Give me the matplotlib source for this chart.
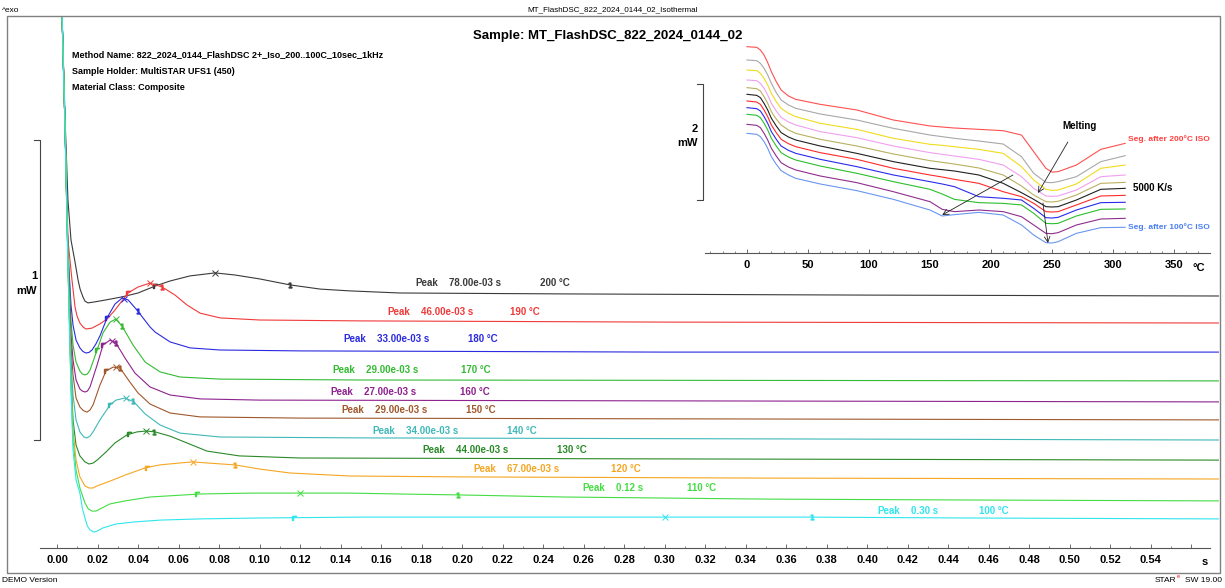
import numpy as np
import matplotlib
matplotlib.use("Agg")
import matplotlib.pyplot as plt
from matplotlib.patches import Rectangle
from matplotlib.transforms import blended_transform_factory

plt.rcParams['font.family'] = ['Liberation Sans', 'DejaVu Sans']

# ---- isothermal segments: heat flow (mW) vs time (s) ----
t_200 = [0.0015, 0.0025, 0.0040, 0.0054, 0.0069, 0.0089, 0.0104, 0.0114, 0.0128, 0.0138, 0.0153, 0.0183, 0.0242,
         0.0321, 0.0400, 0.0484, 0.0558, 0.0657, 0.0780, 0.0879, 0.1000, 0.1151, 0.1300, 0.1447, 0.1694, 0.2500,
         0.4000, 0.5735]
hf_200 = [2.027, 1.773, 1.427, 1.160, 1.027, 0.953, 0.893, 0.863, 0.837, 0.823, 0.817, 0.820, 0.827,
          0.837, 0.850, 0.873, 0.890, 0.907, 0.917, 0.910, 0.897, 0.877, 0.863, 0.857, 0.850, 0.847,
          0.843, 0.840]
t_190 = [0.0015, 0.0025, 0.0040, 0.0054, 0.0074, 0.0089, 0.0099, 0.0113, 0.0128, 0.0143, 0.0173, 0.0212, 0.0247,
         0.0286, 0.0351, 0.0400, 0.0459, 0.0519, 0.0583, 0.0642, 0.0706, 0.0805, 0.1000, 0.1500, 0.3000, 0.5735]
hf_190 = [2.027, 1.773, 1.393, 1.027, 0.893, 0.803, 0.773, 0.750, 0.737, 0.730, 0.733, 0.747, 0.763,
          0.793, 0.850, 0.870, 0.883, 0.870, 0.843, 0.810, 0.783, 0.767, 0.760, 0.757, 0.753, 0.750]
t_180 = [0.0015, 0.0025, 0.0040, 0.0054, 0.0069, 0.0079, 0.0094, 0.0113, 0.0128, 0.0143, 0.0158, 0.0173, 0.0192,
         0.0212, 0.0247, 0.0286, 0.0321, 0.0351, 0.0395, 0.0459, 0.0484, 0.0558, 0.0657, 0.0805, 0.1200, 0.3000,
         0.5735]
hf_180 = [2.027, 1.773, 1.393, 0.993, 0.810, 0.743, 0.693, 0.667, 0.655, 0.650, 0.652, 0.660, 0.680,
          0.707, 0.767, 0.813, 0.833, 0.827, 0.793, 0.737, 0.720, 0.687, 0.667, 0.660, 0.657, 0.653,
          0.653]
t_170 = [0.0015, 0.0025, 0.0040, 0.0054, 0.0069, 0.0079, 0.0094, 0.0113, 0.0125, 0.0138, 0.0150, 0.0163, 0.0198,
         0.0227, 0.0262, 0.0290, 0.0321, 0.0375, 0.0435, 0.0509, 0.0607, 0.0805, 0.1500, 0.5735]
hf_170 = [2.027, 1.773, 1.393, 0.993, 0.760, 0.677, 0.620, 0.590, 0.580, 0.577, 0.580, 0.593, 0.660,
          0.717, 0.753, 0.763, 0.740, 0.677, 0.620, 0.587, 0.570, 0.563, 0.560, 0.557]
t_160 = [0.0015, 0.0025, 0.0040, 0.0054, 0.0069, 0.0079, 0.0094, 0.0113, 0.0125, 0.0138, 0.0150, 0.0163, 0.0198,
         0.0227, 0.0262, 0.0291, 0.0336, 0.0385, 0.0459, 0.0558, 0.0706, 0.1000, 0.5735]
hf_160 = [2.027, 1.773, 1.393, 0.977, 0.710, 0.627, 0.560, 0.530, 0.523, 0.520, 0.523, 0.537, 0.610,
          0.677, 0.693, 0.683, 0.633, 0.583, 0.537, 0.510, 0.497, 0.493, 0.487]
t_150 = [0.0015, 0.0025, 0.0040, 0.0054, 0.0069, 0.0079, 0.0094, 0.0113, 0.0130, 0.0148, 0.0163, 0.0178, 0.0212,
         0.0242, 0.0277, 0.0311, 0.0360, 0.0400, 0.0459, 0.0558, 0.0706, 0.1200, 0.5735]
hf_150 = [2.027, 1.773, 1.393, 0.977, 0.677, 0.577, 0.500, 0.470, 0.458, 0.453, 0.460, 0.477, 0.543,
          0.590, 0.603, 0.600, 0.553, 0.517, 0.480, 0.450, 0.437, 0.433, 0.427]
t_140 = [0.0015, 0.0025, 0.0040, 0.0054, 0.0069, 0.0079, 0.0094, 0.0113, 0.0133, 0.0148, 0.0163, 0.0178, 0.0212,
         0.0262, 0.0291, 0.0336, 0.0380, 0.0435, 0.0509, 0.0607, 0.0805, 0.1500, 0.5735]
hf_140 = [2.027, 1.773, 1.393, 0.960, 0.627, 0.510, 0.427, 0.387, 0.370, 0.367, 0.373, 0.387, 0.427,
          0.477, 0.493, 0.500, 0.487, 0.447, 0.410, 0.383, 0.370, 0.367, 0.360]
t_130 = [0.0015, 0.0025, 0.0040, 0.0054, 0.0069, 0.0079, 0.0094, 0.0113, 0.0138, 0.0158, 0.0178, 0.0198, 0.0242,
         0.0286, 0.0345, 0.0395, 0.0440, 0.0484, 0.0558, 0.0642, 0.0741, 0.0900, 0.1200, 0.3000, 0.5735]
hf_130 = [2.027, 1.773, 1.393, 0.960, 0.577, 0.427, 0.343, 0.307, 0.287, 0.280, 0.283, 0.293, 0.320,
          0.350, 0.377, 0.387, 0.390, 0.387, 0.373, 0.350, 0.323, 0.307, 0.300, 0.297, 0.293]
t_120 = [0.0015, 0.0025, 0.0040, 0.0054, 0.0069, 0.0079, 0.0094, 0.0113, 0.0138, 0.0158, 0.0178, 0.0198, 0.0262,
         0.0336, 0.0435, 0.0509, 0.0600, 0.0670, 0.0750, 0.0879, 0.1002, 0.1151, 0.1447, 0.2000, 0.3500, 0.5735]
hf_120 = [2.027, 1.773, 1.393, 0.943, 0.560, 0.393, 0.293, 0.237, 0.207, 0.200, 0.200, 0.207, 0.223,
          0.243, 0.267, 0.277, 0.283, 0.287, 0.283, 0.277, 0.263, 0.250, 0.240, 0.237, 0.233, 0.230]
t_110 = [0.0015, 0.0025, 0.0040, 0.0054, 0.0069, 0.0079, 0.0094, 0.0113, 0.0138, 0.0155, 0.0173, 0.0192, 0.0212,
         0.0262, 0.0336, 0.0459, 0.0706, 0.0953, 0.1200, 0.1447, 0.1694, 0.1980, 0.2500, 0.3500, 0.4500, 0.5735]
hf_110 = [2.027, 1.773, 1.393, 0.943, 0.543, 0.360, 0.260, 0.200, 0.150, 0.130, 0.123, 0.123, 0.130,
          0.147, 0.157, 0.170, 0.180, 0.183, 0.183, 0.183, 0.180, 0.177, 0.170, 0.163, 0.160, 0.157]
t_100 = [0.0015, 0.0025, 0.0040, 0.0054, 0.0069, 0.0079, 0.0094, 0.0113, 0.0125, 0.0138, 0.0150, 0.0163, 0.0183,
         0.0200, 0.0227, 0.0291, 0.0385, 0.0509, 0.0706, 0.1000, 0.1500, 0.2000, 0.3000, 0.3700, 0.4500, 0.5735]
hf_100 = [2.027, 1.773, 1.393, 0.943, 0.527, 0.327, 0.227, 0.183, 0.133, 0.100, 0.073, 0.060, 0.053,
          0.057, 0.067, 0.080, 0.087, 0.093, 0.097, 0.100, 0.103, 0.103, 0.103, 0.103, 0.100, 0.097]

iso_temps = [200, 190, 180, 170, 160, 150, 140, 130, 120, 110, 100]
peak_times = [0.078, 0.046, 0.033, 0.029, 0.027, 0.029, 0.034, 0.044, 0.067, 0.12, 0.30]
peak_texts = ['78.00e-03 s', '46.00e-03 s', '33.00e-03 s', '29.00e-03 s', '27.00e-03 s', '29.00e-03 s',
              '34.00e-03 s', '44.00e-03 s', '67.00e-03 s', '0.12 s', '0.30 s']
lim_left = [0.0484, 0.0351, 0.0247, 0.0198, 0.0227, 0.0242, 0.0262, 0.0356, 0.0444, 0.0691, 0.117]
lim_right = [0.1151, 0.0519, 0.0400, 0.0321, 0.0291, 0.0311, 0.0375, 0.0479, 0.0879, 0.198, 0.373]

# ---- inset: heating scans after each isotherm, heat flow (mW) vs temperature (°C) ----
temp_c = [0, 8, 11, 14, 17, 20, 24, 28, 34, 40, 60, 90, 120, 150, 160, 170, 190, 210, 225, 235, 245, 250,
          255, 270, 290, 310]
seg_200 = [3.557, 3.546, 3.500, 3.414, 3.282, 3.126, 2.954, 2.810, 2.707, 2.649, 2.563, 2.466, 2.293, 2.190,
           2.172, 2.155, 2.132, 2.109, 2.034, 1.747, 1.460, 1.395, 1.402, 1.517, 1.787, 1.891]
seg_190 = [3.328, 3.316, 3.270, 3.184, 3.069, 2.925, 2.764, 2.638, 2.552, 2.494, 2.397, 2.293, 2.149, 2.034,
           2.006, 1.977, 1.931, 1.879, 1.661, 1.374, 1.218, 1.212, 1.230, 1.316, 1.575, 1.678]
seg_180 = [3.155, 3.144, 3.098, 3.011, 2.897, 2.753, 2.609, 2.494, 2.408, 2.351, 2.236, 2.132, 1.977, 1.874,
           1.856, 1.833, 1.787, 1.718, 1.489, 1.259, 1.098, 1.080, 1.086, 1.190, 1.460, 1.517]
seg_170 = [2.983, 2.971, 2.925, 2.839, 2.724, 2.580, 2.448, 2.339, 2.259, 2.207, 2.092, 1.989, 1.845, 1.730,
           1.701, 1.672, 1.615, 1.517, 1.316, 1.115, 0.983, 0.977, 0.983, 1.086, 1.316, 1.345]
seg_160 = [2.851, 2.833, 2.793, 2.695, 2.580, 2.437, 2.310, 2.207, 2.121, 2.063, 1.960, 1.845, 1.707, 1.592,
           1.563, 1.534, 1.466, 1.345, 1.155, 1.000, 0.885, 0.880, 0.891, 1.000, 1.201, 1.218]
seg_150 = [2.736, 2.718, 2.678, 2.580, 2.466, 2.322, 2.190, 2.075, 2.000, 1.948, 1.845, 1.718, 1.575, 1.460,
           1.437, 1.414, 1.345, 1.201, 1.040, 0.925, 0.799, 0.793, 0.799, 0.914, 1.098, 1.115]
seg_140 = [2.621, 2.603, 2.563, 2.466, 2.351, 2.207, 2.075, 1.960, 1.885, 1.833, 1.730, 1.615, 1.460, 1.345,
           1.310, 1.270, 1.201, 1.057, 0.971, 0.856, 0.713, 0.707, 0.713, 0.828, 0.983, 0.994]
seg_130 = [2.506, 2.489, 2.448, 2.351, 2.236, 2.092, 1.960, 1.845, 1.770, 1.718, 1.615, 1.489, 1.345, 1.230,
           1.190, 1.144, 0.971, 0.943, 0.914, 0.770, 0.609, 0.603, 0.615, 0.741, 0.868, 0.874]
seg_120 = [2.391, 2.374, 2.333, 2.236, 2.121, 1.977, 1.845, 1.730, 1.655, 1.603, 1.500, 1.374, 1.230, 1.098,
           1.017, 0.925, 0.868, 0.856, 0.828, 0.684, 0.511, 0.505, 0.511, 0.638, 0.753, 0.759]
seg_110 = [2.218, 2.201, 2.161, 2.063, 1.948, 1.805, 1.672, 1.557, 1.483, 1.431, 1.328, 1.213, 1.057, 0.885,
           0.753, 0.713, 0.741, 0.713, 0.626, 0.483, 0.339, 0.333, 0.351, 0.483, 0.586, 0.598]
seg_100 = [2.063, 2.046, 2.006, 1.920, 1.805, 1.661, 1.529, 1.420, 1.345, 1.287, 1.190, 1.075, 0.925, 0.741,
           0.638, 0.661, 0.701, 0.655, 0.483, 0.310, 0.178, 0.172, 0.195, 0.339, 0.437, 0.443]

iso_curves = [(t_200, hf_200), (t_190, hf_190), (t_180, hf_180), (t_170, hf_170), (t_160, hf_160),
              (t_150, hf_150), (t_140, hf_140), (t_130, hf_130), (t_120, hf_120), (t_110, hf_110),
              (t_100, hf_100)]
iso_colors = ['#3a3a3a', '#f03a3a', '#2a2ae0', '#33bb33', '#8e228e', '#a0582c', '#40b8b8', '#2a8a2a',
              '#f5a623', '#44dd44', '#30e6ee']
seg_curves = [seg_200, seg_190, seg_180, seg_170, seg_160, seg_150, seg_140, seg_130, seg_120, seg_110, seg_100]
seg_colors = ['#ff5050', '#a8a8a8', '#f0dc1e', '#f0a0f0', '#b8b060', '#202020', '#ff2a2a', '#2a2aee',
              '#2cbf2c', '#8e2e8e', '#6a96f0']

# label placement (layout only)
label_x = [0.1768, 0.1630, 0.1412, 0.1358, 0.1348, 0.1402, 0.1556, 0.1802, 0.2054, 0.2593, 0.4049]
temp_x = [0.2385, 0.2237, 0.2030, 0.1995, 0.1990, 0.2020, 0.2222, 0.2469, 0.2736, 0.3111, 0.4553]
label_lift = [0.033, 0.030, 0.040, 0.033, 0.027, 0.027, 0.023, 0.027, 0.027, 0.030, 0.023]

W, H = 1225, 588


def fx(px):
    return px / W


def fy(py):
    return 1 - py / H


fig = plt.figure(figsize=(W / 100, H / 100), dpi=100)

# outer frame
fig.patches.append(Rectangle((fx(7), fy(573)), fx(1220) - fx(7), fy(16) - fy(573),
                             transform=fig.transFigure, fill=False, ec='#808080', lw=1.0))

# ---- main plot ----
ax = fig.add_axes([fx(40), fy(548), fx(1219) - fx(40), fy(16) - fy(548)])
ax.patch.set_alpha(0)
ax.set_xlim(-0.0084, 0.5738)
ax.set_ylim(0, 532 / 300)
for side in ['left', 'right', 'top']:
    ax.spines[side].set_visible(False)
ax.spines['bottom'].set_color('#555555')
ax.spines['bottom'].set_linewidth(0.8)
ax.spines['bottom'].set_bounds(-0.0084, 0.5694)
ax.set_yticks([])
major = np.round(np.arange(0, 0.561, 0.02), 2)
ax.set_xticks(major)
ax.set_xticklabels(['%.2f' % v for v in major[:-1]] + [''])
ax.set_xticks(np.arange(0.01, 0.57, 0.02), minor=True)
ax.tick_params(axis='x', which='major', direction='in', length=3.2, width=0.6, color='#555555',
               pad=5, labelsize=8)
ax.tick_params(axis='x', which='minor', direction='in', length=1.8, width=0.5, color='#555555')
for lbl in ax.get_xticklabels():
    lbl.set_fontweight('bold')
ax.text(0.567, -0.048, 's', ha='center', va='center', fontsize=8, fontweight='bold', clip_on=False)

for (t, hf), col, tp, ptxt, ll, lr, lx, tx, lift, temp in zip(
        iso_curves, iso_colors, peak_times, peak_texts, lim_left, lim_right,
        label_x, temp_x, label_lift, iso_temps):
    ax.plot(t, hf, color=col, lw=0.8)
    ax.plot([tp], [np.interp(tp, t, hf)], marker='x', ms=4, mew=0.7, color=col, ls='none')
    ax.plot([ll], [np.interp(ll, t, hf)], marker=r'$\Gamma$', ms=3.5, color=col, ls='none')
    ax.plot([lr], [np.interp(lr, t, hf)], marker=r'$1$', ms=3.5, color=col, ls='none')
    ty = np.interp(lx, t, hf) + lift
    ax.text(lx, ty, 'Peak', color=col, fontsize=7, fontweight='bold', va='center')
    ax.text(lx + 0.0168, ty, ptxt, color=col, fontsize=7, fontweight='bold', va='center')
    ax.text(tx, ty, '%d °C' % temp, color=col, fontsize=7, fontweight='bold', va='center')

# 1 mW scale bar
tr = blended_transform_factory(ax.transAxes, ax.transData)
ax.plot([-0.005, 0, 0, -0.005], [1.36, 1.36, 0.36, 0.36], transform=tr, color='#444444', lw=0.8,
        clip_on=False)
ax.text(-0.0026, 0.907, '1', transform=tr, ha='right', va='center', fontsize=8, fontweight='bold')
ax.text(-0.0026, 0.857, 'mW', transform=tr, ha='right', va='center', fontsize=8, fontweight='bold')

# ---- inset ----
axi = fig.add_axes([fx(705), fy(253), fx(1210) - fx(705), fy(40) - fy(253)])
axi.patch.set_alpha(0)
axi.set_xlim(-34.4, 379.5)
axi.set_ylim(0, 213 / 58)
for side in ['left', 'right', 'top']:
    axi.spines[side].set_visible(False)
axi.spines['bottom'].set_color('#555555')
axi.spines['bottom'].set_linewidth(0.8)
axi.set_yticks([])
axi.set_xticks(np.arange(0, 351, 50))
axi.set_xticks(np.arange(-30, 371, 10), minor=True)
axi.tick_params(axis='x', which='major', direction='in', length=3.2, width=0.6, color='#555555',
                pad=5, labelsize=8)
axi.tick_params(axis='x', which='minor', direction='in', length=1.8, width=0.5, color='#555555')
for lbl in axi.get_xticklabels():
    lbl.set_fontweight('bold')
axi.text(370, -0.26, '°C', ha='center', va='center', fontsize=8, fontweight='bold')

for seg, col in zip(seg_curves, seg_colors):
    axi.plot(temp_c, seg, color=col, lw=0.8)

tri = blended_transform_factory(axi.transAxes, axi.transData)
axi.plot([-0.016, -0.004, -0.004, -0.016], [2.914, 2.914, 0.914, 0.914], transform=tri,
         color='#444444', lw=0.8, clip_on=False)
axi.text(-0.014, 2.14, '2', transform=tri, ha='right', va='center', fontsize=8, fontweight='bold')
axi.text(-0.014, 1.90, 'mW', transform=tri, ha='right', va='center', fontsize=8, fontweight='bold')

arrow = dict(arrowstyle='->', color='#222222', lw=0.6, shrinkA=0, shrinkB=0)
axi.annotate('', xy=(238.5, 1.034), xytext=(263, 1.914), arrowprops=arrow)
axi.annotate('', xy=(160, 0.655), xytext=(218, 1.345), arrowprops=arrow)
axi.annotate('', xy=(246.7, 0.172), xytext=(242.6, 0.862), arrowprops=arrow)
axi.text(273, 2.19, 'Melting', ha='center', va='center', fontsize=7, fontweight='bold')
axi.text(312, 1.966, 'Seg. after 200°C ISO', color='#ff4040', fontsize=6, fontweight='bold', va='center')
axi.text(316, 1.12, '5000 K/s', color='black', fontsize=7, fontweight='bold', va='center')
axi.text(312, 0.448, 'Seg. after 100°C ISO', color='#4a7ff0', fontsize=6, fontweight='bold', va='center')

# ---- header / footer texts ----
fig.text(fx(2), fy(10), '^exo', fontsize=6, va='center')
fig.text(fx(613), fy(10), 'MT_FlashDSC_822_2024_0144_02_Isothermal', fontsize=5.8, ha='center', va='center')
fig.text(fx(608), fy(36), 'Sample: MT_FlashDSC_822_2024_0144_02', fontsize=9.5, fontweight='bold',
         ha='center', va='center')
fig.text(fx(72), fy(55), 'Method Name: 822_2024_0144_FlashDSC 2+_Iso_200..100C_10sec_1kHz', fontsize=6.5,
         fontweight='bold', va='center')
fig.text(fx(72), fy(72), 'Sample Holder: MultiSTAR UFS1 (450)', fontsize=6.5, fontweight='bold', va='center')
fig.text(fx(72), fy(88), 'Material Class: Composite', fontsize=6.5, fontweight='bold', va='center')
fig.text(fx(2), fy(580), 'DEMO Version', fontsize=6, va='center')
fig.text(fx(1176), fy(580), 'STAR', fontsize=6, ha='right', va='center')
fig.text(fx(1177), fy(577), 'e', fontsize=4, color='red', ha='left', va='center')
fig.text(fx(1222), fy(580), 'SW 19.00', fontsize=6, ha='right', va='center')

fig.savefig('out.png', dpi=100)
